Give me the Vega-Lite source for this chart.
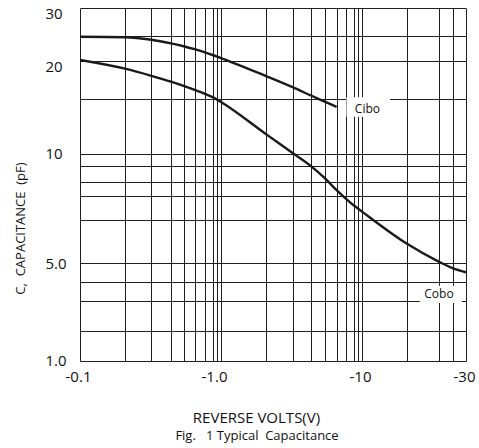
{
  "$schema": "https://vega.github.io/schema/vega-lite/v6.json",
  "width": 386,
  "height": 353,
  "autosize": {"type": "none"},
  "padding": {"left": 80, "top": 8, "right": 13, "bottom": 87},
  "background": "white",
  "config": {"view": {"stroke": null}, "font": "Open Sans"},
  "title": {"text": "Fig.\u00a0\u00a0 1 Typical\u00a0 Capacitance", "orient": "bottom", "anchor": "middle", "fontSize": 13, "fontWeight": "normal", "font": "Open Sans", "color": "#111", "offset": 5, "dx": -16},
  "layer": [
    {
      "data": {"values": [
        {"series": "Cibo", "v": 0.1, "c": 24.93},
        {"series": "Cibo", "v": 0.2, "c": 24.82},
        {"series": "Cibo", "v": 0.3, "c": 24.24},
        {"series": "Cibo", "v": 0.4, "c": 23.46},
        {"series": "Cibo", "v": 0.5, "c": 22.87},
        {"series": "Cibo", "v": 0.6, "c": 22.26},
        {"series": "Cibo", "v": 0.7, "c": 21.62},
        {"series": "Cibo", "v": 0.8, "c": 21.12},
        {"series": "Cibo", "v": 1, "c": 20.55},
        {"series": "Cibo", "v": 2, "c": 17.85},
        {"series": "Cibo", "v": 3, "c": 16.4},
        {"series": "Cibo", "v": 4, "c": 15.4},
        {"series": "Cibo", "v": 5, "c": 14.68},
        {"series": "Cibo", "v": 6, "c": 14.14},
        {"series": "Cobo", "v": 0.1, "c": 20.19},
        {"series": "Cobo", "v": 0.2, "c": 18.87},
        {"series": "Cobo", "v": 0.3, "c": 17.88},
        {"series": "Cobo", "v": 0.4, "c": 17.1},
        {"series": "Cobo", "v": 0.5, "c": 16.56},
        {"series": "Cobo", "v": 0.7, "c": 15.6},
        {"series": "Cobo", "v": 0.8, "c": 15.21},
        {"series": "Cobo", "v": 0.9, "c": 14.93},
        {"series": "Cobo", "v": 1, "c": 14.67},
        {"series": "Cobo", "v": 2, "c": 11.56},
        {"series": "Cobo", "v": 3, "c": 10.05},
        {"series": "Cobo", "v": 4, "c": 9.02},
        {"series": "Cobo", "v": 5, "c": 8.22},
        {"series": "Cobo", "v": 6, "c": 7.43},
        {"series": "Cobo", "v": 7, "c": 6.89},
        {"series": "Cobo", "v": 8, "c": 6.6},
        {"series": "Cobo", "v": 9, "c": 6.47},
        {"series": "Cobo", "v": 10, "c": 6.33},
        {"series": "Cobo", "v": 20, "c": 5.42},
        {"series": "Cobo", "v": 25, "c": 5.03},
        {"series": "Cobo", "v": 27.5, "c": 4.71},
        {"series": "Cobo", "v": 30, "c": 4.49}
      ]},
      "mark": {"type": "line", "interpolate": "monotone", "strokeWidth": 2.4, "color": "#1a1a1a", "clip": true},
      "encoding": {
        "detail": {"field": "series", "type": "nominal"},
        "x": {
          "field": "v", "type": "quantitative",
          "scale": {"type": "log", "nice": false,
            "domain": [0.1, 0.2, 0.3, 0.4, 0.5, 0.6, 0.7, 0.8, 0.9, 1, 2, 3, 4, 5, 6, 7, 8, 9, 10, 20, 25, 27.5, 30],
            "range": [0, 45, 71.3, 91, 103.6, 114.6, 125, 132.6, 137, 141, 186, 212.6, 231, 245.3, 256.6, 266, 273.6, 277.6, 282, 327, 358.6, 372.6, 386]},
          "axis": {
            "values": [0.1, 0.2, 0.3, 0.4, 0.5, 0.6, 0.7, 0.8, 0.9, 1, 2, 3, 4, 5, 6, 7, 8, 9, 10, 20, 25, 27.5, 30],
            "grid": true, "gridColor": "#1e1e1e", "gridOpacity": 1, "gridWidth": 1,
            "ticks": false, "domain": false,
            "labelExpr": "datum.value == 0.1 ? '-0.1' : datum.value == 1 ? '-1.0' : datum.value == 10 ? '-10' : datum.value == 30 ? '-30' : ''",
            "labelOverlap": false, "labelFlush": false, "labelBound": false,
            "labelFontSize": 15, "labelColor": "#111", "labelPadding": 8,
            "labelOffset": {"condition": {"test": "datum.value == 1", "value": -7}, "value": -2},
            "title": "REVERSE VOLTS(V)",
            "titleFontSize": 15, "titleFontWeight": "normal", "titleColor": "#111",
            "titleX": 176, "titleY": 56, "titleAlign": "center", "titleBaseline": "middle"
          }
        },
        "y": {
          "field": "c", "type": "quantitative",
          "scale": {"type": "log", "nice": false,
            "domain": [1, 2, 3, 4, 5, 6, 7, 8, 9, 10, 15, 20, 25, 30],
            "range": [352.7, 322.7, 293.4, 274.4, 255, 211.7, 188.4, 174.4, 158.4, 145.7, 91, 53, 28.4, 0]},
          "axis": {
            "values": [1, 2, 3, 4, 5, 6, 7, 8, 9, 10, 15, 20, 25, 30],
            "grid": true, "gridColor": "#1e1e1e", "gridOpacity": 1, "gridWidth": 1,
            "ticks": false, "domain": false,
            "labelExpr": "datum.value == 1 ? '1.0' : datum.value == 5 ? '5.0' : datum.value == 10 ? '10' : datum.value == 20 ? '20' : datum.value == 30 ? '30' : ''",
            "labelOverlap": false, "labelFlush": false, "labelBound": false,
            "labelFontSize": 15, "labelColor": "#111", "labelAlign": "left", "labelPadding": 35,
            "labelOffset": {"condition": {"test": "datum.value >= 20", "value": 5}, "value": 0},
            "title": "C,\u00a0 CAPACITANCE\u00a0 (pF)",
            "titleFontSize": 13, "titleFontWeight": "normal", "titleColor": "#111",
            "titleX": -60, "titleY": 220, "titleAlign": "center", "titleBaseline": "middle", "titleAngle": -90
          }
        }
      }
    },
    {
      "data": {"values": [
        {"box": "Cibo", "x1": 7.05, "x2": 15.39, "y1": 13.15, "y2": 15.2},
        {"box": "Cobo", "x1": 21.9, "x2": 29.2, "y1": 2.93, "y2": 3.8}
      ]},
      "mark": {"type": "rect", "color": "white", "opacity": 1},
      "encoding": {
        "x": {"field": "x1", "type": "quantitative"},
        "x2": {"field": "x2"},
        "y": {"field": "y1", "type": "quantitative"},
        "y2": {"field": "y2"}
      }
    },
    {
      "data": {"values": [
        {"label": "Cibo", "tx": 8.3, "ty": 13.96},
        {"label": "Cobo", "tx": 22.6, "ty": 3.37}
      ]},
      "mark": {"type": "text", "align": "left", "baseline": "middle", "fontSize": 12, "color": "#111"},
      "encoding": {
        "x": {"field": "tx", "type": "quantitative"},
        "y": {"field": "ty", "type": "quantitative"},
        "text": {"field": "label", "type": "nominal"}
      }
    }
  ]
}
